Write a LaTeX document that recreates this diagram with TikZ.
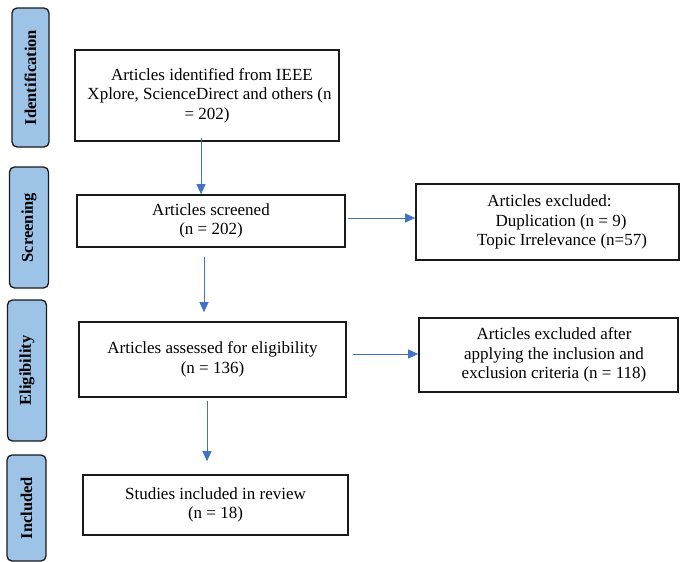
\documentclass[tikz,border=0pt]{standalone}
\usepackage{fontspec}
\setmainfont{Liberation Serif}
\usepackage{xcolor}
\usepackage{tikz}
\usetikzlibrary{arrows.meta,positioning}
\definecolor{prphase}{HTML}{9DC3E6}
\definecolor{prarrow}{HTML}{4472C4}
\definecolor{prline}{HTML}{1A1A1A}
\tikzset{
  pphase/.style={draw=prline,line width=1.3pt,fill=prphase,rounded corners=5pt,rotate=90,
    inner sep=0pt,font=\bfseries\fontsize{16.5}{18}\selectfont},
  pbox/.style={draw=prline,line width=1.6pt,fill=white,align=center,inner sep=0pt,
    font=\fontsize{17}{19.5}\selectfont},
  flow/.style={-{Triangle[length=10pt,width=9pt]},line width=0.9pt,draw=prarrow}
}
\begin{document}
\begin{tikzpicture}[x=1pt,y=-1pt]
    \useasboundingbox (0,0) rectangle (680,562);
    % phases on the left
    \node[pphase,minimum width=139pt,minimum height=37pt] (ph1) at (30.5,77.5) {Identification};
    \node[pphase,minimum width=121pt,minimum height=39pt] (ph2) at (29,227.5) {Screening};
    \node[pphase,minimum width=141pt,minimum height=39pt] (ph3) at (27,370.5) {Eligibility};
    \node[pphase,minimum width=106pt,minimum height=39pt] (ph4) at (26.5,508) {Included};
    % main column
    \node[pbox,minimum width=264pt,minimum height=91pt] (ident) at (207,95.5) {\hspace*{10pt}Articles identified from IEEE\\\hspace*{5pt}Xplore, ScienceDirect and others (n\\= 202)};
    \node[pbox,minimum width=268pt,minimum height=52pt] (screen) at (211,221) {Articles screened\\(n = 202)};
    \node[pbox,minimum width=267pt,minimum height=75pt] (elig) at (212.5,359.5) {Articles assessed for eligibility\\(n = 136)};
    \node[pbox,minimum width=265pt,minimum height=60pt] (incl) at (215.5,505) {Studies included in review\\(n = 18)};
    % exclusions
    \node[pbox,minimum width=263pt,minimum height=76pt] (excl1) at (547.5,222) {\hspace*{4pt}Articles excluded:\\\hspace*{27pt}Duplication (n = 9)\\\hspace*{29pt}Topic Irrelevance (n=57)};
    \node[pbox,minimum width=259pt,minimum height=74pt] (excl2) at (548.5,355) {\hspace*{11pt}Articles excluded after\\\hspace*{11pt}applying the inclusion and\\\hspace*{11pt}exclusion criteria (n = 118)};
    % arrows
    \draw[flow,shorten <=-4pt] ([xshift=-6pt]ident.south) -- ([xshift=-6pt]ident.south |- screen.north);
    \draw[flow,shorten <=9pt,shorten >=9pt] ([xshift=-7pt]screen.south) -- ([xshift=-7pt]screen.south |- elig.north);
    \draw[flow,shorten <=3pt,shorten >=13pt] ([xshift=-5.5pt]elig.south) -- ([xshift=-5.5pt]elig.south |- incl.north);
    \draw[flow,shorten <=2pt] ([yshift=3pt]screen.east) -- ([yshift=3pt]screen.east -| excl1.west);
    \draw[flow,shorten <=6pt] ([yshift=5.5pt]elig.east) -- ([yshift=5.5pt]elig.east -| excl2.west);
\end{tikzpicture}
\end{document}
